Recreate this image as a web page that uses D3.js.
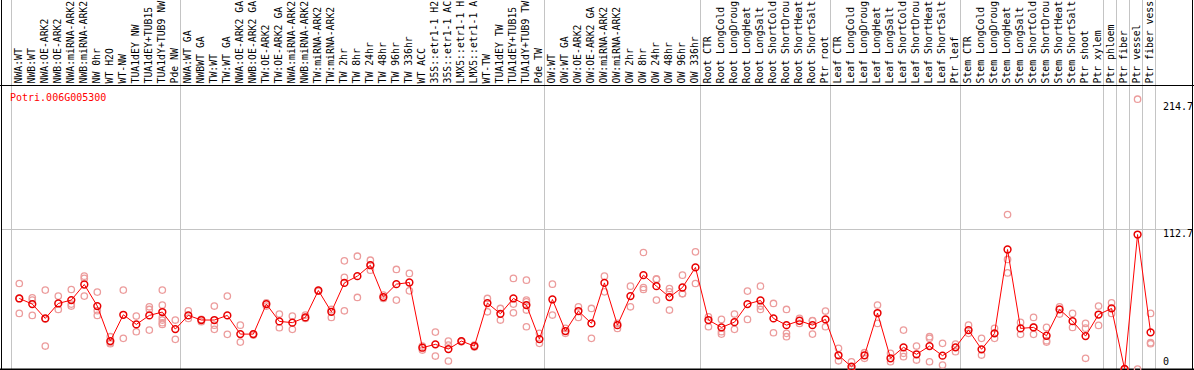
<!DOCTYPE html>
<html>
<head>
<meta charset="utf-8">
<script src="https://cdn.jsdelivr.net/npm/d3@7"></script>
<style>
  body { margin: 0; background: #fff; }
  svg { display: block; }
  text { font-family: "DejaVu Sans Mono", "Liberation Mono", monospace; font-size: 10px; }
</style>
</head>
<body>
<svg width="1194" height="370"></svg>
<script>
const geneId = "Potri.006G005300";

// sample names, left to right (as shown, 14 characters at most)
const samples = [
  "NWA:WT", "NWB:WT", "NWA:OE-ARK2", "NWB:OE-ARK2", "NWA:miRNA-ARK2", "NWB:miRNA-ARK2",
  "NW 0hr", "WT H2O", "WT-NW", "TUA1dEY NW", "TUA1dEY+TUB15", "TUA1dY+TUB9 NW", "Pde NW",
  "NWA:WT GA", "NWBWT GA", "TW:WT", "TW:WT GA", "NWA:OE-ARK2 GA", "NWB:OE-ARK2 GA",
  "TW:OE-ARK2", "TW:OE-ARK2 GA", "NWA:miRNA-ARK2", "NWB:miRNA-ARK2", "TW:miRNA-ARK2", "TW:miRNA-ARK2",
  "TW 2hr", "TW 8hr", "TW 24hr", "TW 48hr", "TW 96hr", "TW 336hr", "WT ACC",
  "35S::etr1-1 H2", "35S::etr1-1 AC", "LMX5::etr1-1 H", "LMX5::etr1-1 A",
  "WT-TW", "TUA1dEY TW", "TUA1dEY+TUB15", "TUA1dY+TUB9 TW", "Pde TW",
  "OW:WT", "OW:WT GA", "OW:OE-ARK2", "OW:OE-ARK2 GA", "OW:miRNA-ARK2", "OW:miRNA-ARK2",
  "OW 2hr", "OW 8hr", "OW 24hr", "OW 48hr", "OW 96hr", "OW 336hr",
  "Root CTR", "Root LongCold", "Root LongDroug", "Root LongHeat", "Root LongSalt",
  "Root ShortCold", "Root ShortDrou", "Root ShortHeat", "Root ShortSalt", "Ptr root",
  "Leaf CTR", "Leaf LongCold", "Leaf LongDroug", "Leaf LongHeat", "Leaf LongSalt",
  "Leaf ShortCold", "Leaf ShortDrou", "Leaf ShortHeat", "Leaf ShortSalt", "Ptr leaf",
  "Stem CTR", "Stem LongCold", "Stem LongDroug", "Stem LongHeat", "Stem LongSalt",
  "Stem ShortCold", "Stem ShortDrou", "Stem ShortHeat", "Stem ShortSalt", "Ptr shoot", "Ptr xylem",
  "Ptr phloem", "Ptr fiber", "Ptr vessel", "Ptr fiber vess"
];

// number of samples before each separator line
const groupEnds = [0, 13, 41, 53, 63, 73, 84, 85, 86, 87, 88];

// mean expression per sample
const means = [
  56.6, 52.1, 40.6, 52.6, 55.3, 67.8, 50.5, 22.4, 43.5, 35.8, 43.0, 45.7, 32.0,
  43.0, 39.3, 39.3, 43.0, 28.0, 28.0, 52.1, 38.2, 37.2, 41.4, 63.0, 45.9,
  69.1, 74.5, 83.3, 57.7, 68.1, 69.4, 17.1, 19.8, 16.0, 22.4, 18.4,
  52.9, 44.3, 56.6, 51.3, 24.0,
  55.8, 30.4, 46.5, 36.6, 69.1, 35.2, 58.5, 75.3, 66.5, 57.7, 65.4, 81.5,
  39.3, 33.4, 37.6, 52.1, 55.0, 40.6, 35.2, 38.7, 35.2, 39.8,
  11.0, 1.8, 11.0, 44.9, 8.6, 17.4, 11.8, 18.4, 10.7, 17.4,
  31.2, 15.8, 28.6, 95.9, 32.6, 33.4, 26.7, 47.8, 38.4, 26.4, 43.7,
  48.6, 0, 107.9, 29.4
];

// individual replicates per sample
const replicates = [
  [68.6, 56.6, 44.6], [57.1, 55.3, 43.0], [63.3, 40.1, 18.4], [58.5, 47.8], [63.8, 52.1, 50.5],
  [74.5, 72.7, 58.5], [61.7, 46.8, 43.0], [25.9, 21.1, 20.3], [63.3, 24.6], [42.5, 29.9],
  [49.9, 47.8, 31.2], [63.3, 51.3, 41.4, 39.3, 37.1, 35.8], [39.3, 23.8],
  [46.7, 40.6], [39.8, 37.9], [50.5, 35.2, 31.8], [58.5, 27.8], [35.2, 21.6], [28.0, 27.2],
  [53.1, 50.5], [44.1, 33.1], [42.5, 31.8], [43.3, 40.6], [63.0, 62.4], [47.8, 41.4],
  [86.8, 73.5, 46.7], [90.5, 57.4], [87.3, 83.3, 79.3], [59.3, 56.6], [79.9, 55.3],
  [76.7, 62.7], [18.4, 15.2], [29.6, 10.4], [22.4, 19.2, 6.4], [22.4, 21.8], [19.2, 17.6],
  [56.6, 45.9], [48.6, 39.3], [72.7, 52.1, 45.1], [71.3, 55.3, 53.9, 47.3, 33.9], [28.6, 20.6],
  [68.1, 43.3], [32.6, 28.6], [49.9, 41.4], [48.6, 24.6], [74.5, 61.9], [36.6, 32.6],
  [66.5, 49.9], [93.5, 65.4, 63.8], [71.9, 72.3, 55.3], [64.6, 61.9, 47.3], [75.3, 60.6, 60.3],
  [94.0, 68.6],
  [41.9, 33.9], [39.8, 29.9, 28.0], [44.1, 31.8], [62.5, 39.8], [66.5, 50.5, 47.8],
  [52.6, 29.1], [47.8, 28.6, 25.9], [40.6, 36.6], [38.7, 28.0, 38.9], [46.5, 33.9],
  [16.6, 6.6], [5.8, 0], [13.1, 8.6], [51.3, 36.6], [12.6, 5.8], [31.2, 12.6, 9.9],
  [18.4, 7.2], [25.9, 24.6, 5.8], [20.6, 3.2], [20.0, 13.9],
  [35.2, 28.6], [24.6, 11.2], [32.6, 24.6], [123.9, 87.9, 77.1], [37.4, 27.8],
  [41.4, 27.8, 33.6], [33.4, 22.7, 21.6], [49.9, 44.1], [44.6, 33.4], [36.6, 32.8, 8.6],
  [50.5, 35.0],
  [53.1, 44.6], [0, 0], [216.5, 0], [44.6, 21.1, 20.3]
];

// right-hand axis labels
const yTicks = [0, 112.7, 214.7];
const yMax = 227.5;

const svg = d3.select("svg");
const W = 1194, H = 370;
const plotTop = 85.5, plotBottom = 369, plotLeft = 10.7, plotRight = 1155;

svg.append("rect").attr("width", W).attr("height", H).attr("fill", "#fff");

// some sample names repeat, so the band scale works on indices
const idx = d3.range(samples.length);
const x = d3.scaleBand().domain(idx).range([plotLeft, plotRight]).padding(0);
const y = d3.scaleLinear().domain([0, yMax]).range([plotBottom, plotTop]);
const px = i => x(i) + x.bandwidth() * 0.66;

// vertical separators between sample groups
svg.append("g")
  .selectAll("line")
  .data(groupEnds)
  .join("line")
    .attr("x1", i => Math.round(plotLeft + i * x.bandwidth()) + 0.5)
    .attr("x2", i => Math.round(plotLeft + i * x.bandwidth()) + 0.5)
    .attr("y1", 0)
    .attr("y2", plotBottom)
    .attr("stroke", "#c4c4c4")
    .attr("stroke-width", 1);

// horizontal grid (middle tick only)
svg.append("g")
  .selectAll("line")
  .data(yTicks.filter(v => v > 0 && v < d3.max(yTicks)))
  .join("line")
    .attr("x1", 1)
    .attr("x2", W - 1)
    .attr("y1", v => Math.round(y(v)) + 0.5)
    .attr("y2", v => Math.round(y(v)) + 0.5)
    .attr("stroke", "#c4c4c4")
    .attr("stroke-width", 1);

// frame
const frame = svg.append("g").attr("stroke", "#000").attr("stroke-width", 1);
frame.append("line").attr("x1", 0).attr("x2", W).attr("y1", plotTop).attr("y2", plotTop);
frame.append("line").attr("x1", 0).attr("x2", W).attr("y1", plotBottom + 0.5).attr("y2", plotBottom + 0.5).attr("stroke-width", 2);
frame.append("line").attr("x1", 1.5).attr("x2", 1.5).attr("y1", 0).attr("y2", H);
frame.append("line").attr("x1", W - 1.5).attr("x2", W - 1.5).attr("y1", 0).attr("y2", H);

// sample labels, rotated
svg.append("g")
  .selectAll("text")
  .data(idx)
  .join("text")
    .attr("transform", i => `translate(${x(i) + 11},83.5) rotate(-90)`)
    .attr("fill", "#000")
    .style("font-size", "9.8px")
    .text(i => samples[i]);

// gene id
svg.append("text")
  .attr("x", 10)
  .attr("y", 100.5)
  .attr("fill", "#ff0000")
  .text(geneId);

// right axis values
svg.append("g")
  .selectAll("text")
  .data(yTicks)
  .join("text")
    .attr("x", 1163)
    .attr("y", v => v === 0 ? y(v) - 4 : y(v) + 8.5)
    .attr("fill", "#000")
    .text(v => v === 0 ? "0" : v.toFixed(1));

// replicates
const reps = idx.flatMap(i => replicates[i].map(v => ({ i, v })));
svg.append("g")
  .selectAll("circle")
  .data(reps)
  .join("circle")
    .attr("cx", d => px(d.i))
    .attr("cy", d => y(d.v))
    .attr("r", 3.2)
    .attr("fill", "none")
    .attr("stroke", "#ec9c9c")
    .attr("stroke-width", 1.3);

// mean line
const line = d3.line().x((d, i) => px(i)).y(d => y(d));
svg.append("path")
  .datum(means)
  .attr("d", line)
  .attr("fill", "none")
  .attr("stroke", "#ff0000")
  .attr("stroke-width", 1);

svg.append("g")
  .selectAll("circle")
  .data(means)
  .join("circle")
    .attr("cx", (d, i) => px(i))
    .attr("cy", d => y(d))
    .attr("r", 3.4)
    .attr("fill", "none")
    .attr("stroke", "#e80000")
    .attr("stroke-width", 1.5);
</script>
</body>
</html>
